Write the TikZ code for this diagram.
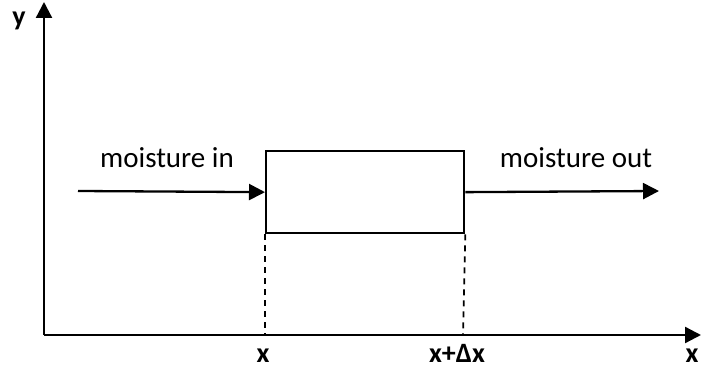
\documentclass[tikz,border=0pt]{standalone}
\usepackage{fontspec}
\setmainfont{Carlito}
\usetikzlibrary{arrows.meta}
\begin{document}
\begin{tikzpicture}[x=1pt,y=-1pt,
  arr/.style={line width=2.3pt,-{Triangle[length=16pt,width=16pt]}},
  guide/.style={line width=1.8pt,dash pattern=on 6pt off 5pt},
  lbl/.style={font=\fontsize{29}{34}\selectfont,inner sep=0pt,anchor=base},
  axl/.style={font=\fontsize{28}{32}\selectfont\bfseries,inner sep=0pt,anchor=base}]
\useasboundingbox (0,0) rectangle (701,371);
\coordinate (O) at (44,335);
\coordinate (ytip) at (44,2);
\coordinate (xtip) at (701,335);
\draw[arr] (O) -- (ytip);
\draw[arr] (O) -- (xtip);
\node[draw,line width=2.3pt,minimum width=198pt,minimum height=82pt,inner sep=0pt,anchor=north west] (box) at (265,150) {};
\coordinate (inS) at (78,191);
\coordinate (outE) at (659,191);
\draw[arr] (inS) -- (box.west);
\draw[arr] (box.east) -- (outE);
\coordinate (xa) at (265,335);
\coordinate (xb) at (463,335);
\draw[guide] (box.south west) -- (xa);
\draw[guide] (box.south east) -- (xb);
\node[lbl] (min) at (167,168) {moisture in};
\node[lbl] (mout) at (576,168) {moisture out};
\node[axl] (ylbl) at (19,26) {y};
\node[axl] (xl1) at (263,362) {x};
\node[axl] (xl2) at (457,362) {x+Δx};
\node[axl] (xl3) at (692,362) {x};
\end{tikzpicture}
\end{document}
